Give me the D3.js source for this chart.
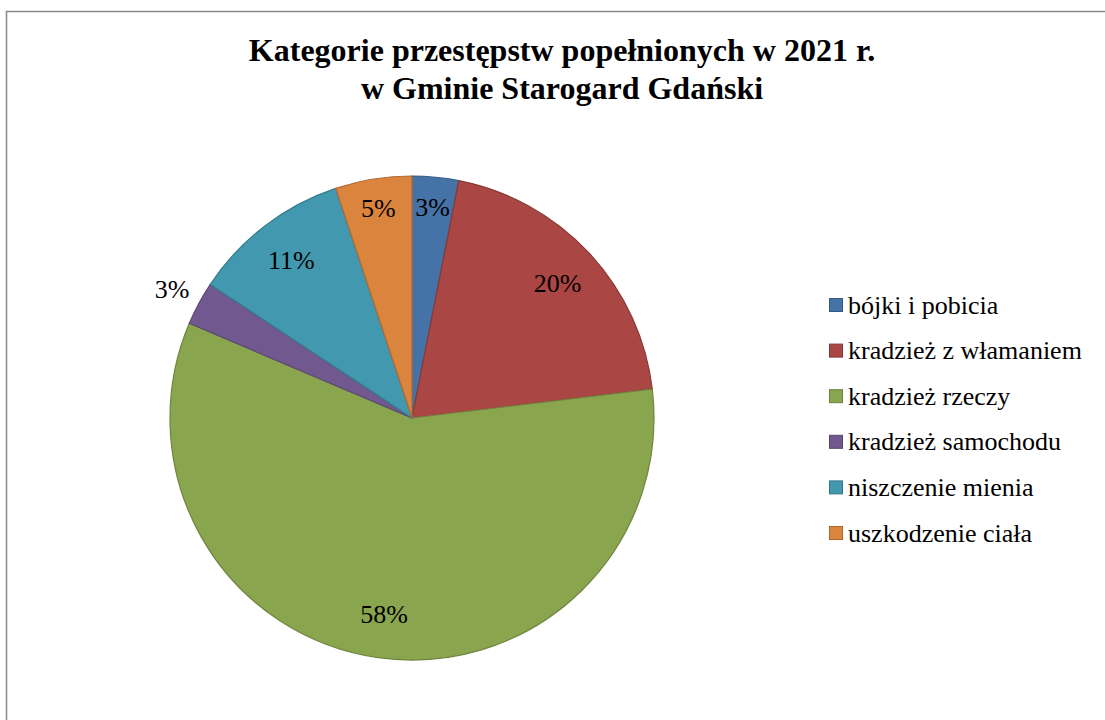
<!DOCTYPE html>
<html>
<head>
<meta charset="utf-8">
<script src="https://cdn.jsdelivr.net/npm/d3@7"></script>
<style>
  body { margin: 0; background: #fff; }
  svg { display: block; }
  svg text { font-family: "Liberation Serif", "Times New Roman", serif; fill: #000; }
</style>
</head>
<body>
<svg id="chart" width="1105" height="720"></svg>
<script>
// data (share in %)
const categories = ["bójki i pobicia", "kradzież z włamaniem", "kradzież rzeczy",
  "kradzież samochodu", "niszczenie mienia", "uszkodzenie ciała"]
const values = [3.1, 20, 58.3, 2.9, 10.6, 5.1]
const colors = ["#4572A7", "#AA4643", "#89A54E", "#71588F", "#4198AF", "#DB843D"]
const titleLines = ["Kategorie przestępstw popełnionych w 2021 r.", "w Gminie Starogard Gdański"]

const W = 1105, H = 720
const CX = 412, CY = 418, R = 242

const svg = d3.select("#chart")

// outer frame (runs past the right/bottom edge of the window)
svg.append("rect")
  .attr("x", 6.5).attr("y", 11.5)
  .attr("width", W + 20).attr("height", H + 20)
  .attr("fill", "none").attr("stroke", "#888").attr("stroke-width", 1.5)

svg.append("g").selectAll("text")
  .data(titleLines).join("text")
  .attr("x", 562).attr("y", (d, i) => 61 + i * 38)
  .attr("text-anchor", "middle")
  .attr("font-size", 32).attr("font-weight", "bold")
  .text(d => d)

const total = d3.sum(values)
const pie = d3.pie().sort(null).value(d => d)
const arcs = pie(values)
const arc = d3.arc().innerRadius(0).outerRadius(R)

const g = svg.append("g").attr("transform", `translate(${CX},${CY})`)

g.selectAll("path")
  .data(arcs).join("path")
  .attr("d", arc)
  .attr("fill", (d, i) => colors[i])
  .attr("stroke", (d, i) => d3.color(colors[i]).darker(0.6))
  .attr("stroke-width", 1.2)

// label radius: tiny slices near the frame go outside, the rest sit inside
function labelRadius(d, i) {
  const share = d.value / total
  if (i === 3) return 1.125 * R
  return share < 0.06 ? 0.875 * R : 0.82 * R
}

g.selectAll("text.lbl")
  .data(arcs).join("text")
  .attr("class", "lbl")
  .attr("transform", (d, i) => {
    const a = (d.startAngle + d.endAngle) / 2
    const r = labelRadius(d, i)
    return `translate(${Math.sin(a) * r},${-Math.cos(a) * r})`
  })
  .attr("text-anchor", "middle")
  .attr("dominant-baseline", "central")
  .attr("font-size", 26)
  .text(d => Math.round(d.value / total * 100) + "%")

const legend = svg.append("g").attr("transform", "translate(829,305)")
const rows = legend.selectAll("g")
  .data(categories).join("g")
  .attr("transform", (d, i) => `translate(0,${i * 45.6})`)

rows.append("rect")
  .attr("x", 0.5).attr("y", -6.5).attr("width", 13).attr("height", 13)
  .attr("fill", (d, i) => colors[i])
  .attr("stroke", (d, i) => d3.color(colors[i]).darker(0.7))
  .attr("stroke-width", 1)

rows.append("text")
  .attr("x", 19).attr("y", 0)
  .attr("dominant-baseline", "central")
  .attr("font-size", 26)
  .text(d => d)
</script>
</body>
</html>
